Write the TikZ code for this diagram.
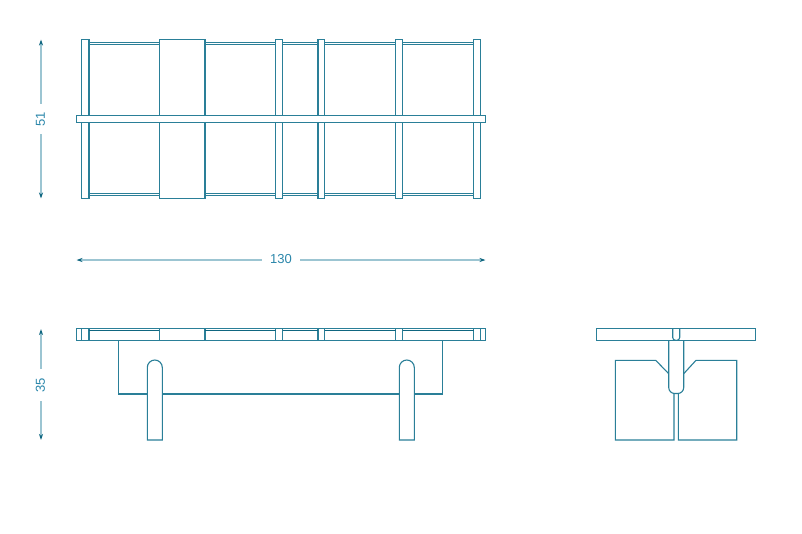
\documentclass[tikz,border=0pt]{standalone}
\usepackage{fontspec}
\setmainfont{Liberation Sans}
\usetikzlibrary{arrows.meta}
\definecolor{ink}{HTML}{2A7F98}
\definecolor{darkink}{HTML}{0F6680}
\definecolor{dimline}{HTML}{9CC5D2}
\definecolor{dimtext}{HTML}{2A86AA}
\tikzset{
  part/.style={draw=ink,line width=1.1pt,fill=white,line join=miter},
  partline/.style={draw=ink,line width=1.1pt},
  strong/.style={draw=darkink,line width=1.3pt},
  dimarrow/.style={draw=dimline,line width=1.1pt,-{Stealth[length=6pt,width=4pt,color=darkink]}},
  dimlabel/.style={text=dimtext,font=\fontsize{13}{13}\selectfont,inner sep=0pt},
}
\begin{document}
\begin{tikzpicture}[x=1pt,y=-1pt]
\useasboundingbox (0,0) rectangle (802,533);
% ---------- top view ----------
\foreach \a/\b in {89/159.3,205/275.7,282.7/318,324.7/395.7,402.7/473.7}{
  \draw[part] (\a,42.5) rectangle (\b,44.8);
  \draw[part] (\a,193.3) rectangle (\b,195.6);
}
\foreach \a/\b in {81.5/89,159.3/205,275.7/282.7,318/324.7,395.7/402.7,473.7/480.7}{
  \draw[part] (\a,39.5) rectangle (\b,198.3);
}
\draw[part] (76.5,115.5) rectangle (485.5,122.3);
% ---------- side view ----------
\draw[part] (76.5,328.5) rectangle (485.5,340.3);
\foreach \a in {81.5,89,159.3,205,275.7,282.7,318,324.7,395.7,402.7,473.7,480.7}{
  \draw[partline] (\a,328.5) -- (\a,340.3);
}
\foreach \a/\b in {89/159.3,205/275.7,282.7/318,324.7/395.7,402.7/473.7}{
  \draw[strong] (\a,330.2) -- (\b,330.2);
}
\draw[partline] (118.7,340.3) -- (118.7,394) -- (442.7,394) -- (442.7,340.3);
\foreach \a in {147.3,399.3}{
  \draw[part] (\a,440) -- (\a,367.5) arc[start angle=180,end angle=360,radius=7.5] -- (\a+15,440) -- cycle;
}
% ---------- front view ----------
\draw[partline] (668.7,373.7) -- (655.7,360.3) -- (615.3,360.3) -- (615.3,440) -- (674,440) -- (674,393);
\draw[partline] (683.7,373.7) -- (696,360.3) -- (736.7,360.3) -- (736.7,440) -- (678.3,440) -- (678.3,393);
\draw[part] (668.7,340.3) -- (668.7,387.5) arc[start angle=180,end angle=90,radius=6] -- (677.7,393.5) arc[start angle=90,end angle=0,radius=6] -- (683.7,340.3);
\draw[part] (596.3,328.5) rectangle (755.7,340.3);
\draw[partline] (672.7,328.5) -- (672.7,337.5) arc[start angle=180,end angle=90,radius=2.8] -- (676.9,340.3) arc[start angle=90,end angle=0,radius=2.8] -- (679.7,328.5);
% ---------- dimensions ----------
\node[dimlabel,rotate=90,minimum width=30pt] (d51) at (40.5,119) {51};
\coordinate (d51a) at (41,39.5);
\coordinate (d51b) at (41,198.5);
\draw[dimarrow] (d51.east) ++(0.5,0) -- (d51a);
\draw[dimarrow] (d51.west) ++(0.5,0) -- (d51b);
\node[dimlabel,rotate=90,minimum width=32pt] (d35) at (40.5,385) {35};
\coordinate (d35a) at (41,329);
\coordinate (d35b) at (41,440);
\draw[dimarrow] (d35.east) ++(0.5,0) -- (d35a);
\draw[dimarrow] (d35.west) ++(0.5,0) -- (d35b);
\node[dimlabel,minimum width=38pt] (d130) at (281,259.5) {130};
\coordinate (d130a) at (76.5,260);
\coordinate (d130b) at (485.5,260);
\draw[dimarrow] (d130.west) ++(0,0.5) -- (d130a);
\draw[dimarrow] (d130.east) ++(0,0.5) -- (d130b);
\end{tikzpicture}
\end{document}
